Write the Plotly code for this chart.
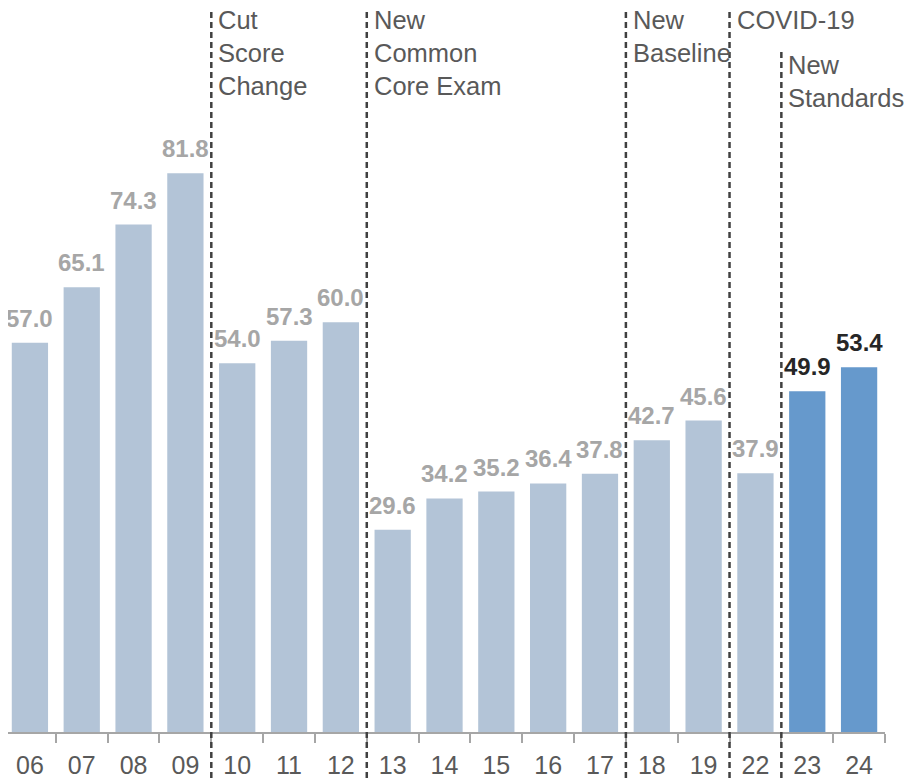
import plotly.graph_objects as go

years = ["06", "07", "08", "09", "10", "11", "12", "13", "14", "15", "16", "17",
         "18", "19", "22", "23", "24"]
values = [57.0, 65.1, 74.3, 81.8, 54.0, 57.3, 60.0, 29.6, 34.2, 35.2, 36.4, 37.8,
          42.7, 45.6, 37.9, 49.9, 53.4]
new_standard = ["23", "24"]

# breaks drawn after these years, with their note
break_after = ["09", "12", "17", "19", "22"]
break_notes = ["Cut<br>Score<br>Change", "New<br>Common<br>Core Exam",
               "New<br>Baseline", "COVID-19", "New<br>Standards"]

FONT = "Liberation Sans, Arial, sans-serif"
bar_colors = ["#6699cc" if y in new_standard else "#b3c4d7" for y in years]
label_colors = ["#262626" if y in new_standard else "#a6a6a6" for y in years]

plot_h = 724
fig = go.Figure()
fig.add_trace(go.Bar(x=years, y=values, marker=dict(color=bar_colors, line_width=0),
                     hoverinfo="x+y"))

# value labels above bars
for i, (v, c) in enumerate(zip(values, label_colors)):
    fig.add_annotation(x=i, y=v, text=f"<b>{v:.1f}</b>", showarrow=False,
                       yanchor="bottom", yshift=9,
                       font=dict(family=FONT, size=24, color=c))

# dashed separators and their notes
for i, (yr, note) in enumerate(zip(break_after, break_notes)):
    xpos = years.index(yr) + 0.5
    last = i == len(break_after) - 1
    line_top = 1 - 44 / plot_h if last else 1
    text_top = 1 - 41 / plot_h if last else 1 + 4 / plot_h
    fig.add_shape(type="line", xref="x", yref="paper", x0=xpos, x1=xpos,
                  y0=-56 / plot_h, y1=line_top,
                  line=dict(color="#404040", width=2.5, dash="6px,4px"))
    fig.add_annotation(x=xpos, y=text_top, xref="x", yref="paper",
                       text=note, showarrow=False, xanchor="left", yanchor="top",
                       align="left", xshift=5,
                       font=dict(family=FONT, size=25.5, color="#595959"))

fig.update_layout(
    width=915, height=780,
    margin=dict(l=0, r=38, t=0, b=56),
    plot_bgcolor="white", paper_bgcolor="white",
    bargap=0.3, showlegend=False,
    font=dict(family=FONT, size=25, color="#595959"),
)
fig.update_xaxes(type="category", range=[-0.423, len(years) - 0.5], tickangle=0,
                 showline=True, linecolor="#a6a6a6", linewidth=2,
                 ticks="outside", ticklen=9, tickcolor="#a6a6a6", tickwidth=2,
                 tickson="boundaries", showgrid=False, ticklabelstandoff=10,
                 tickfont=dict(family=FONT, size=25, color="#595959"))
fig.update_yaxes(range=[0, 106.0], visible=False)

fig.write_html("out.html")
